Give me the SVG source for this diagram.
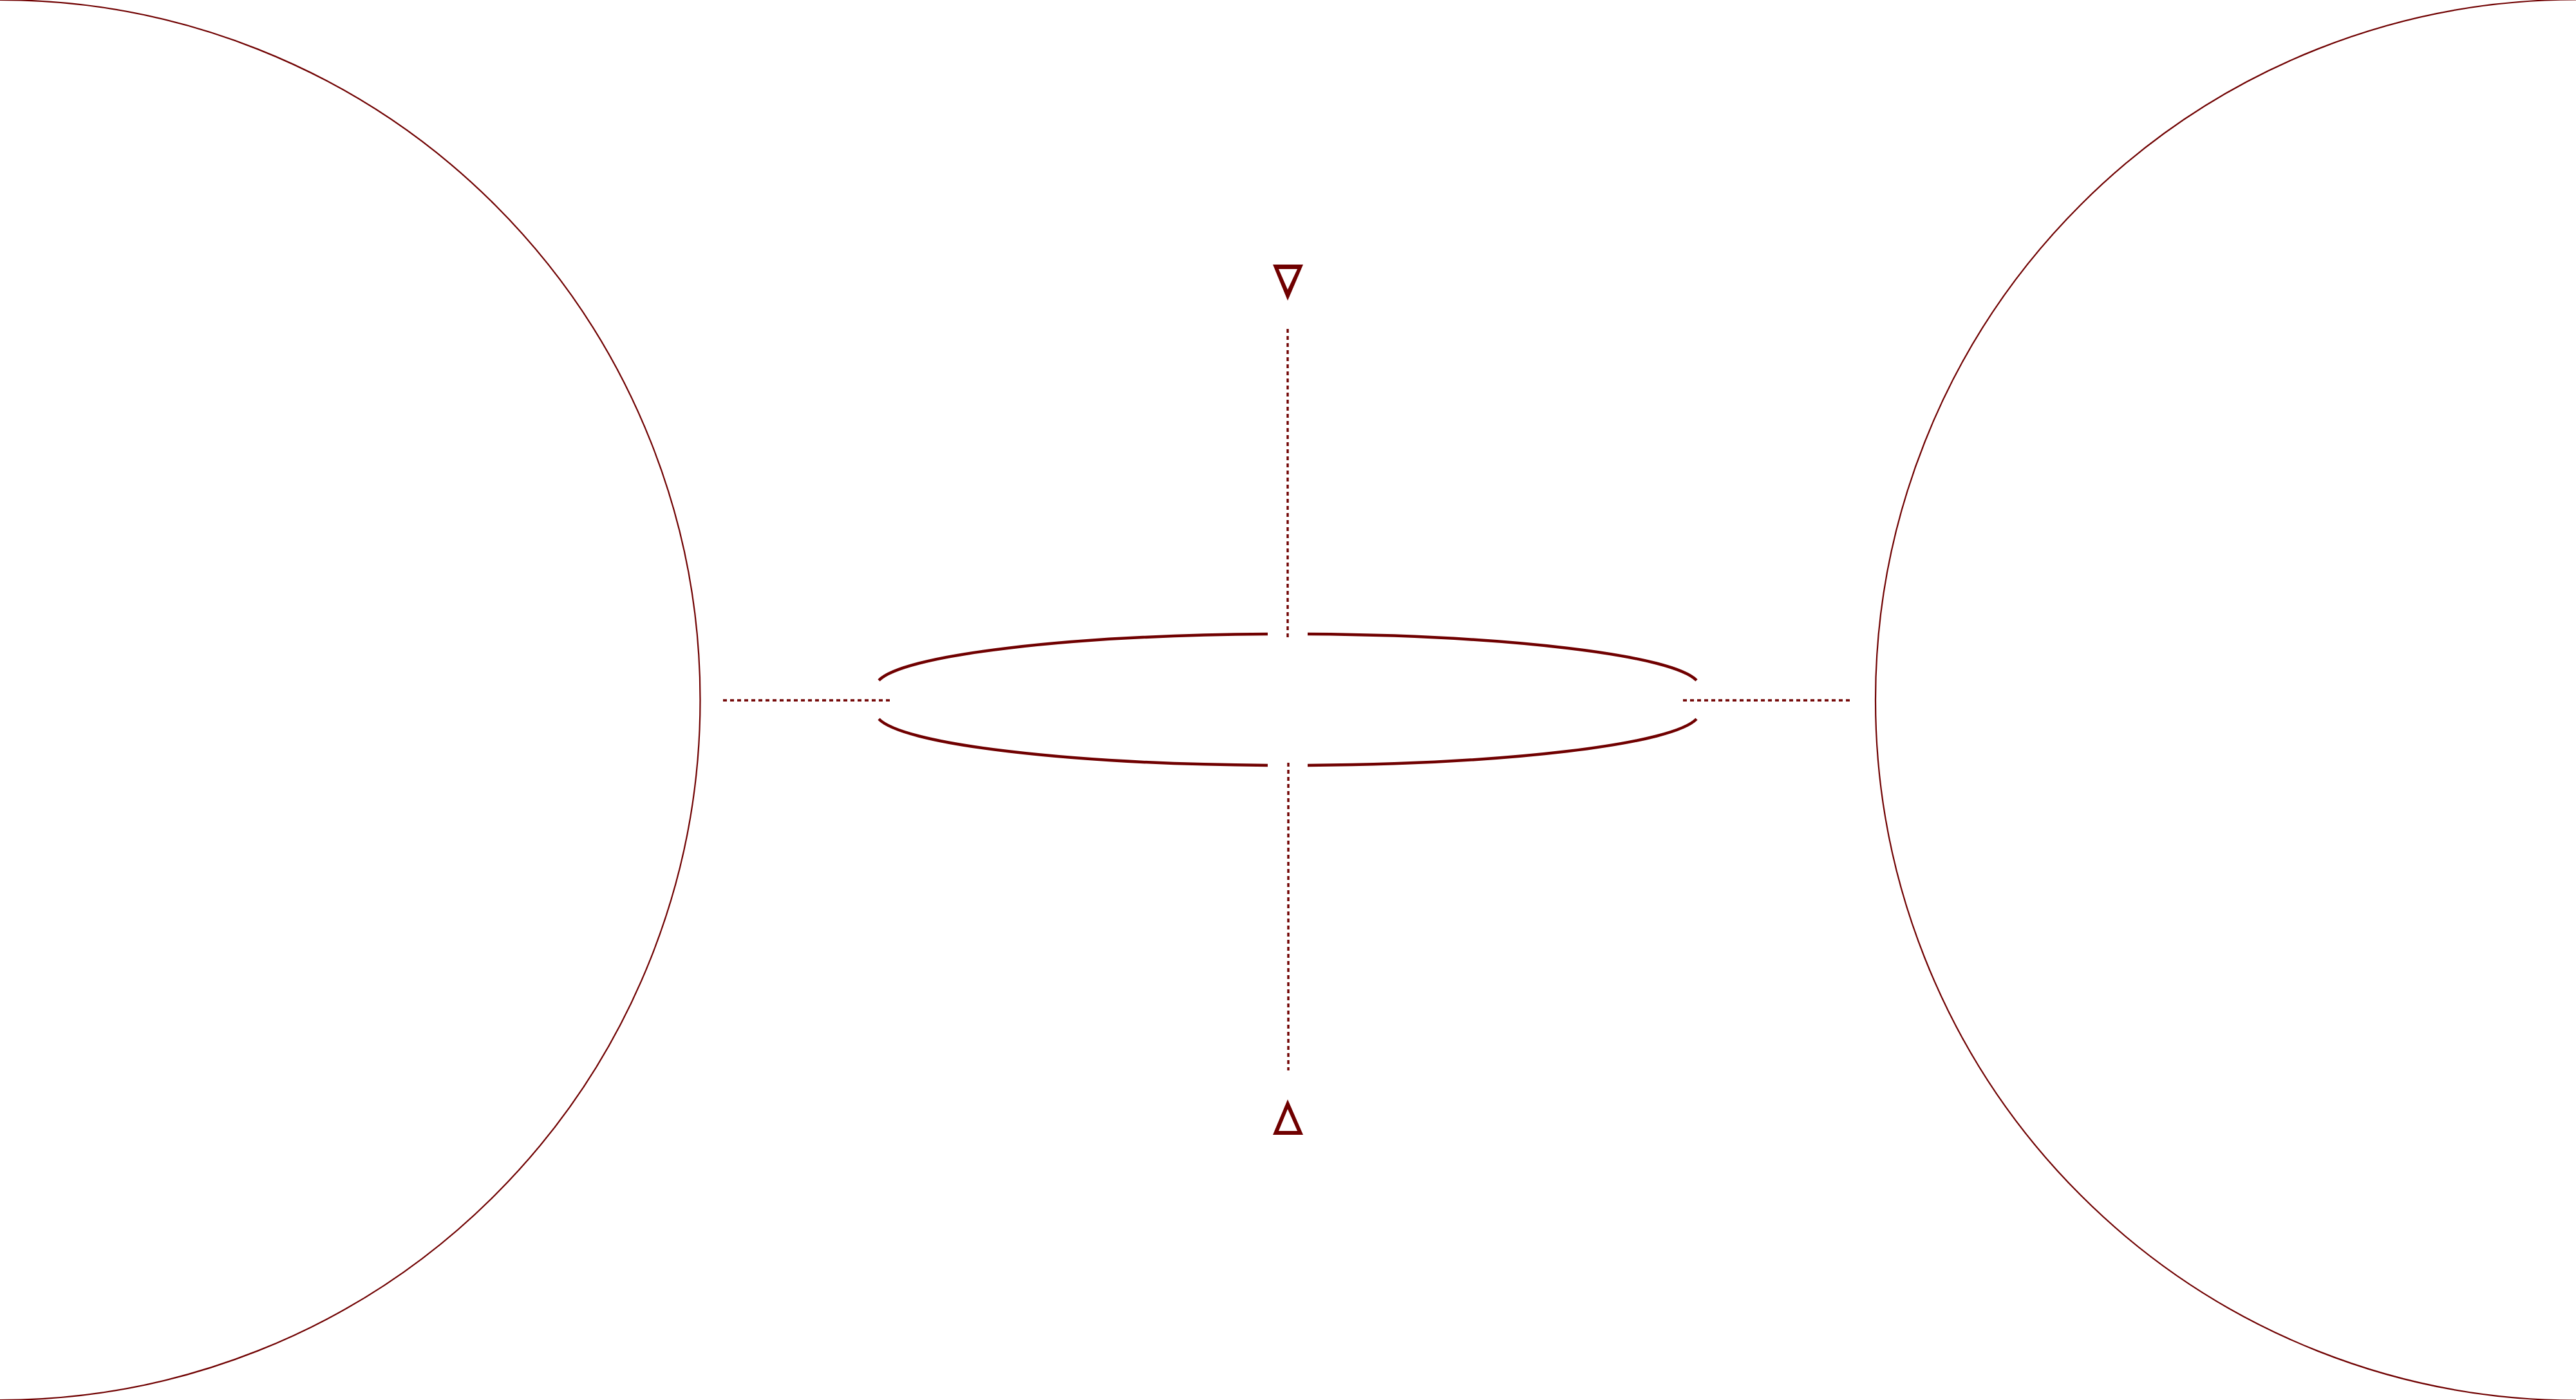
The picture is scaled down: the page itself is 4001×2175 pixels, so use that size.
<svg xmlns="http://www.w3.org/2000/svg" width="4001" height="2175" viewBox="0 0 4001 2175">
  <style>
    .big { fill: none; stroke: #700000; stroke-width: 2.2; }
    .ring { fill: none; stroke: #700000; stroke-width: 4.5; stroke-linecap: butt; }
    .dot { fill: none; stroke: #700000; stroke-width: 3.4; stroke-dasharray: 6 5; }
    .tri { fill: #700000; fill-rule: evenodd; stroke: none; }
  </style>
  <rect width="4001" height="2175" fill="#ffffff"/>
  <g id="left-sphere">
    <circle class="big" cx="0" cy="1087.5" r="1087.5"/>
  </g>
  <g id="right-sphere">
    <circle class="big" cx="4001" cy="1087.5" r="1088"/>
  </g>
  <g id="ring">
    <path class="ring" d="M1365,1057 A641,82 0 0 1 1969,985.1"/>
    <path class="ring" d="M2031,985.1 A641,82 0 0 1 2635,1057"/>
    <path class="ring" d="M1365,1117 A641,82 0 0 0 1969,1188.9"/>
    <path class="ring" d="M2031,1188.9 A641,82 0 0 0 2635,1117"/>
  </g>
  <g id="top-marker">
    <path class="tri" d="M1977,411 L2024,411 L2000,467 Z M1986,418 L2000,450 L2015,418 Z"/>
  </g>
  <g id="bottom-marker">
    <path class="tri" d="M2000,1708 L2024,1763 L1977,1763 Z M2000,1723 L1986,1757 L2015,1757 Z"/>
  </g>
  <g id="connectors">
    <line class="dot" x1="2000" y1="511" x2="2000" y2="990"/>
    <line class="dot" x1="2001" y1="1185" x2="2001" y2="1663"/>
    <line class="dot" x1="1123" y1="1088" x2="1387" y2="1088"/>
    <line class="dot" x1="2614" y1="1088" x2="2877" y2="1088"/>
  </g>
</svg>
